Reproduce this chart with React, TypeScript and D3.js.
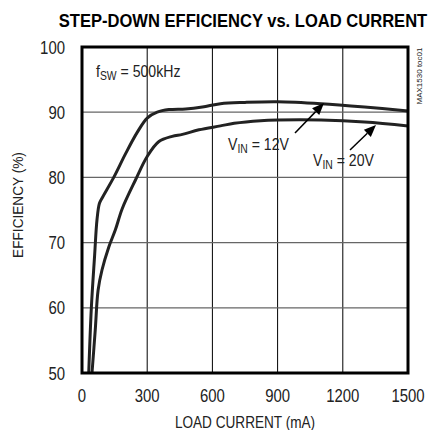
import React from 'react';
import * as d3 from 'd3';

// load current (mA) / efficiency (%)
const vin12Current = [31, 43, 58, 69, 80, 92, 146, 200, 254, 300, 346, 400, 477, 554, 637, 750, 900, 1100, 1300, 1500];
const vin12Eff = [50, 60, 68, 73.5, 76, 76.8, 80, 83.6, 86.9, 89.1, 90, 90.4, 90.5, 90.8, 91.3, 91.5, 91.6, 91.3, 90.8, 90.2];

const vin20Current = [46, 61, 74, 92, 123, 154, 185, 246, 300, 354, 415, 462, 538, 637, 700, 822, 900, 1100, 1300, 1500];
const vin20Eff = [50, 56.6, 62.7, 65.8, 69.3, 72, 75.2, 79.6, 83.2, 85.5, 86.3, 86.6, 87.3, 87.9, 88.3, 88.7, 88.8, 88.8, 88.5, 87.9];

const xTicks = [0, 300, 600, 900, 1200, 1500];
const yTicks = [50, 60, 70, 80, 90, 100];

const W = 432;
const H = 430;
const margin = { left: 82, right: 24, top: 47, bottom: 57 };
const sans = "'Liberation Sans', Arial, sans-serif";

// condensed-looking text: Liberation Sans squeezed horizontally
function NText(props: {
  x: number;
  y: number;
  size: number;
  sx?: number;
  anchor?: string;
  rotate?: number;
  bold?: boolean;
  children: React.ReactNode;
}) {
  const { x, y, size, sx = 0.83, anchor = 'start', rotate = 0, bold = false, children } = props;
  return (
    <text
      transform={`translate(${x},${y}) rotate(${rotate}) scale(${sx},1)`}
      textAnchor={anchor}
      fontFamily={sans}
      fontSize={size}
      fontWeight={bold ? 'bold' : 'normal'}
      fill={bold ? '#000' : '#222'}
    >
      {children}
    </text>
  );
}

export default function App() {
  const x = d3.scaleLinear().domain([0, 1500]).range([margin.left, W - margin.right]);
  const y = d3.scaleLinear().domain([50, 100]).range([H - margin.bottom, margin.top]);

  const line = d3
    .line<[number, number]>()
    .x((d) => x(d[0]))
    .y((d) => y(d[1]))
    .curve(d3.curveCatmullRom.alpha(0.5));

  const s12 = vin12Current.map((c, i) => [c, vin12Eff[i]] as [number, number]);
  const s20 = vin20Current.map((c, i) => [c, vin20Eff[i]] as [number, number]);

  const arrow = (x1: number, y1: number, x2: number, y2: number) => {
    const ang = Math.atan2(y2 - y1, x2 - x1);
    const len = 12;
    const w = 5;
    const bx = x2 - len * Math.cos(ang);
    const by = y2 - len * Math.sin(ang);
    const px = -Math.sin(ang) * w;
    const py = Math.cos(ang) * w;
    return (
      <g>
        <line x1={x1} y1={y1} x2={bx} y2={by} stroke="#000" strokeWidth={1.5} />
        <polygon points={`${x2},${y2} ${bx + px},${by + py} ${bx - px},${by - py}`} fill="#000" />
      </g>
    );
  };

  return (
    <div style={{ position: 'absolute', left: 0, top: 0 }}>
      <svg width={W} height={H} style={{ display: 'block', background: '#fff' }}>
        <NText x={243} y={27} size={18.5} sx={0.895} anchor="middle" bold>
          STEP-DOWN EFFICIENCY vs. LOAD CURRENT
        </NText>

        {/* grid */}
        {xTicks.slice(1, -1).map((t) => (
          <line key={'gx' + t} x1={x(t)} x2={x(t)} y1={y(100)} y2={y(50)} stroke="#000" strokeWidth={1} />
        ))}
        {yTicks.slice(1, -1).map((t) => (
          <line key={'gy' + t} x1={x(0)} x2={x(1500)} y1={y(t)} y2={y(t)} stroke="#666" strokeWidth={1.2} />
        ))}

        {/* curves */}
        <path d={line(s12) || ''} fill="none" stroke="#222" strokeWidth={3} />
        <path d={line(s20) || ''} fill="none" stroke="#222" strokeWidth={3} />

        {/* frame */}
        <rect
          x={x(0)}
          y={y(100)}
          width={x(1500) - x(0)}
          height={y(50) - y(100)}
          fill="none"
          stroke="#000"
          strokeWidth={3}
        />

        {/* ticks */}
        {yTicks.map((t) => (
          <NText key={'ty' + t} x={65} y={y(t) + 6.5} size={18} anchor="end">
            {t}
          </NText>
        ))}
        {xTicks.map((t) => (
          <NText key={'tx' + t} x={x(t)} y={402} size={18} anchor="middle">
            {t}
          </NText>
        ))}

        <NText x={x(750)} y={428} size={17} sx={0.8} anchor="middle">
          LOAD CURRENT (mA)
        </NText>
        <NText x={23} y={205} size={15} sx={0.91} anchor="middle" rotate={-90}>
          EFFICIENCY (%)
        </NText>

        <NText x={96} y={77} size={17}>
          f<tspan fontSize={12.5} dy={3}>SW</tspan>
          <tspan dy={-3}> = 500kHz</tspan>
        </NText>

        <NText x={228} y={150} size={17}>
          V<tspan fontSize={12.5} dy={3}>IN</tspan>
          <tspan dy={-3}> = 12V</tspan>
        </NText>
        <NText x={313} y={166} size={17}>
          V<tspan fontSize={12.5} dy={3}>IN</tspan>
          <tspan dy={-3}> = 20V</tspan>
        </NText>
        {arrow(295, 133, 324, 103)}
        {arrow(350, 150, 376, 125)}

        <NText x={422} y={76} size={8} sx={1} anchor="middle" rotate={-90}>
          MAX1530 toc01
        </NText>
      </svg>
    </div>
  );
}
